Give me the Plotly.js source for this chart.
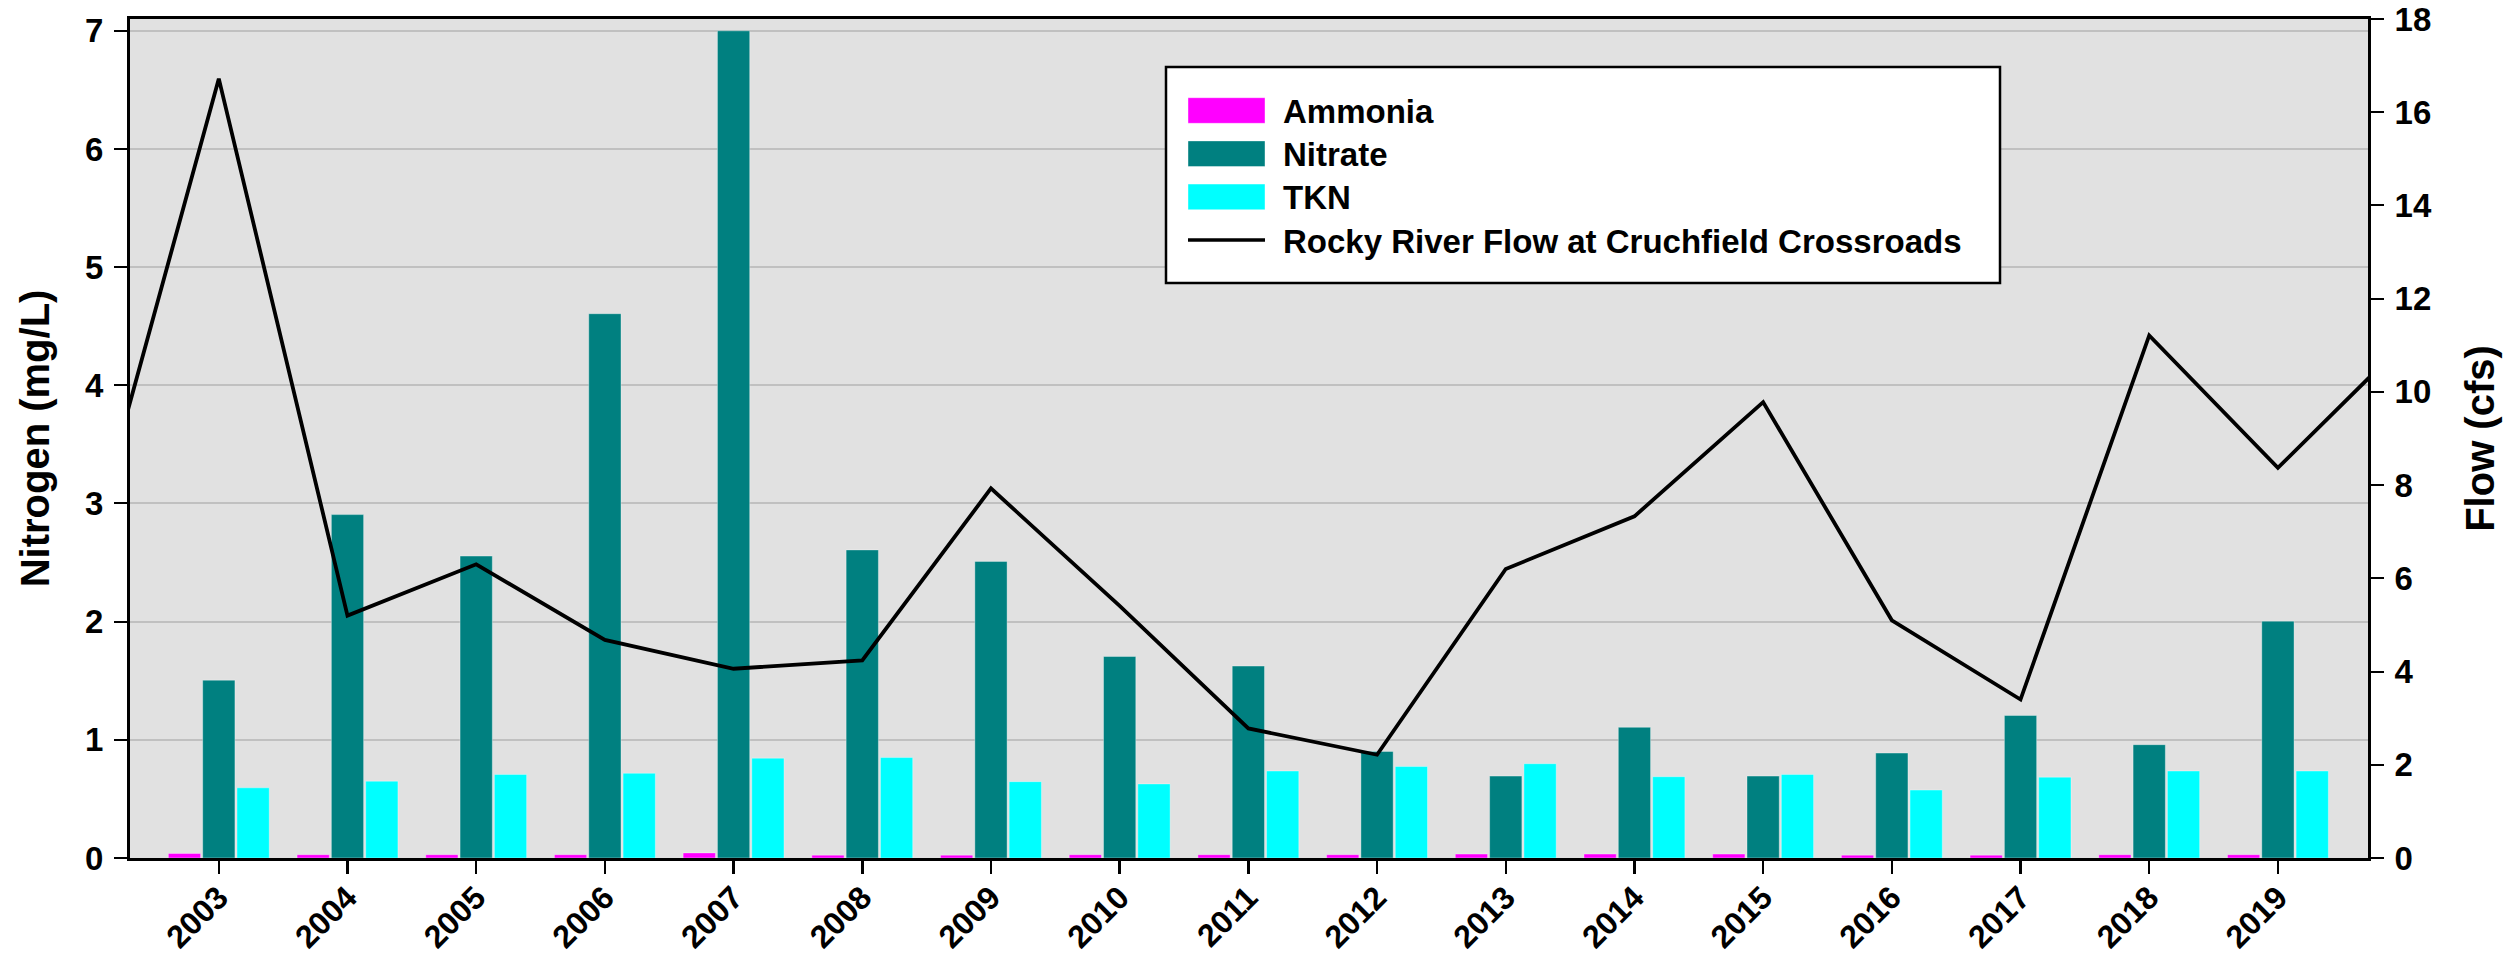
<!DOCTYPE html>
<html>
<head>
<meta charset="utf-8">
<script src="https://cdn.plot.ly/plotly-3.0.1.min.js"></script>
<style>
  html, body { margin: 0; padding: 0; background: #ffffff; }
  #chart { width: 2517px; height: 956px; }
</style>
</head>
<body>
<div id="chart"></div>
<script>
// ---- Data ----
const years = [2003, 2004, 2005, 2006, 2007, 2008, 2009, 2010, 2011, 2012, 2013, 2014, 2015, 2016, 2017, 2018, 2019];
const ammonia = [0.038, 0.028, 0.028, 0.028, 0.043, 0.024, 0.024, 0.028, 0.028, 0.028, 0.033, 0.033, 0.033, 0.024, 0.024, 0.028, 0.028];
const nitrate = [1.505, 2.906, 2.555, 4.606, 7.0, 2.607, 2.51, 1.705, 1.624, 0.902, 0.693, 1.106, 0.693, 0.888, 1.206, 0.959, 2.004];
const tkn = [0.594, 0.65, 0.707, 0.717, 0.845, 0.85, 0.646, 0.627, 0.736, 0.774, 0.798, 0.688, 0.707, 0.575, 0.684, 0.736, 0.736];
// flow line continues past the first and last year (clipped at the frame)
const flowYears = [2002, 2003, 2004, 2005, 2006, 2007, 2008, 2009, 2010, 2011, 2012, 2013, 2014, 2015, 2016, 2017, 2018, 2019, 2020];
const flow = [6.65, 16.72, 5.20, 6.30, 4.68, 4.06, 4.24, 7.93, 5.41, 2.78, 2.215, 6.20, 7.33, 9.78, 5.10, 3.40, 11.21, 8.37, 11.1];

const nitrogenTicks = [0, 1, 2, 3, 4, 5, 6, 7];
const flowTicks = [0, 2, 4, 6, 8, 10, 12, 14, 16, 18];

const seriesNames = ['Ammonia', 'Nitrate', 'TKN', 'Rocky River Flow at Cruchfield Crossroads'];
const seriesColors = ['#ff00ff', '#008080', '#00ffff', '#000000'];

// ---- Styling ----
const FONT = 'Liberation Sans, Arial, Helvetica, sans-serif';
const W = 2517, H = 956;
const M = { l: 130, r: 149, t: 19, b: 98 };
const plotW = W - M.l - M.r, plotH = H - M.t - M.b;
const px = x => (x - M.l) / plotW;          // page px -> paper x
const py = y => (H - M.b - y) / plotH;      // page px -> paper y

const barLine = { color: 'rgba(255,255,255,0.35)', width: 1 };
const traces = [
  { type: 'bar', name: seriesNames[0], x: years, y: ammonia, marker: { color: seriesColors[0], line: barLine }, showlegend: false },
  { type: 'bar', name: seriesNames[1], x: years, y: nitrate, marker: { color: seriesColors[1], line: barLine }, showlegend: false },
  { type: 'bar', name: seriesNames[2], x: years, y: tkn, marker: { color: seriesColors[2], line: barLine }, showlegend: false },
  { type: 'scatter', mode: 'lines', name: seriesNames[3], x: flowYears, y: flow, yaxis: 'y2',
    line: { color: seriesColors[3], width: 3.8 }, showlegend: false, cliponaxis: true }
];

// ---- Custom legend (box, swatches, labels) ----
const legendBox = { x0: 1166, x1: 2000, y0: 67, y1: 283 };
const swatch = { x0: 1188, x1: 1265, h: 25.6 };
const rowFirst = 110.5, rowStep = 43.2, textX = 1281;
const shapes = [{
  type: 'rect', xref: 'paper', yref: 'paper',
  x0: px(legendBox.x0), x1: px(legendBox.x1), y0: py(legendBox.y1), y1: py(legendBox.y0),
  fillcolor: '#ffffff', line: { color: '#000000', width: 2.5 }, layer: 'above'
}];
const annotations = [];
seriesNames.forEach((nm, i) => {
  const cy = rowFirst + i * rowStep;
  if (i < 3) {
    shapes.push({
      type: 'rect', xref: 'paper', yref: 'paper',
      x0: px(swatch.x0), x1: px(swatch.x1), y0: py(cy + swatch.h / 2), y1: py(cy - swatch.h / 2),
      fillcolor: seriesColors[i], line: { color: 'rgba(255,255,255,0.4)', width: 1 }, layer: 'above'
    });
  } else {
    shapes.push({
      type: 'line', xref: 'paper', yref: 'paper',
      x0: px(swatch.x0), x1: px(swatch.x1), y0: py(cy), y1: py(cy),
      line: { color: seriesColors[i], width: 3.5 }, layer: 'above'
    });
  }
  annotations.push({
    xref: 'paper', yref: 'paper', x: px(textX), y: py(cy + 1),
    xanchor: 'left', yanchor: 'middle', showarrow: false, text: nm,
    font: { family: FONT, size: 33, weight: 'bold', color: '#000000' }
  });
});

const tickFont = { family: FONT, size: 33, weight: 'bold', color: '#000000' };
const xTickFont = { family: FONT, size: 32, weight: 'bold', color: '#000000' };
const titleFont = { family: FONT, size: 40, weight: 'bold', color: '#000000' };

const layout = {
  width: W, height: H,
  margin: M,
  paper_bgcolor: '#ffffff',
  plot_bgcolor: '#e1e1e1',
  barmode: 'group',
  bargap: 0.2,
  bargroupgap: 0.06,
  showlegend: false,
  font: { family: FONT, color: '#000000' },
  xaxis: {
    range: [2002.31, 2019.7],
    tickmode: 'array', tickvals: years, ticktext: years.map(String),
    tickangle: -45, tickfont: xTickFont, ticklabelstandoff: -8,
    ticks: 'outside', ticklen: 13, tickwidth: 2.5, tickcolor: '#000000',
    showline: true, linecolor: '#000000', linewidth: 3, mirror: true,
    showgrid: false, zeroline: false, fixedrange: true
  },
  yaxis: {
    range: [0, 7.1],
    tickmode: 'array', tickvals: nitrogenTicks,
    tickfont: tickFont, ticklabelstandoff: 4,
    ticks: 'outside', ticklen: 13, tickwidth: 2, tickcolor: '#000000',
    showline: true, linecolor: '#000000', linewidth: 3,
    showgrid: true, gridcolor: '#c0c0c0', gridwidth: 2,
    zeroline: false, fixedrange: true,
    title: { text: 'Nitrogen (mg/L)', font: titleFont, standoff: 24 }
  },
  yaxis2: {
    overlaying: 'y', side: 'right',
    range: [0, 18],
    tickmode: 'array', tickvals: flowTicks,
    tickfont: tickFont, ticklabelstandoff: 4,
    ticks: 'outside', ticklen: 13, tickwidth: 2, tickcolor: '#000000',
    showline: true, linecolor: '#000000', linewidth: 3,
    showgrid: false, zeroline: false, fixedrange: true,
    title: { text: 'Flow (cfs)', font: titleFont, standoff: 36 }
  },
  shapes: shapes,
  annotations: annotations
};

Plotly.newPlot('chart', traces, layout, { displayModeBar: false, staticPlot: true });
</script>
</body>
</html>
